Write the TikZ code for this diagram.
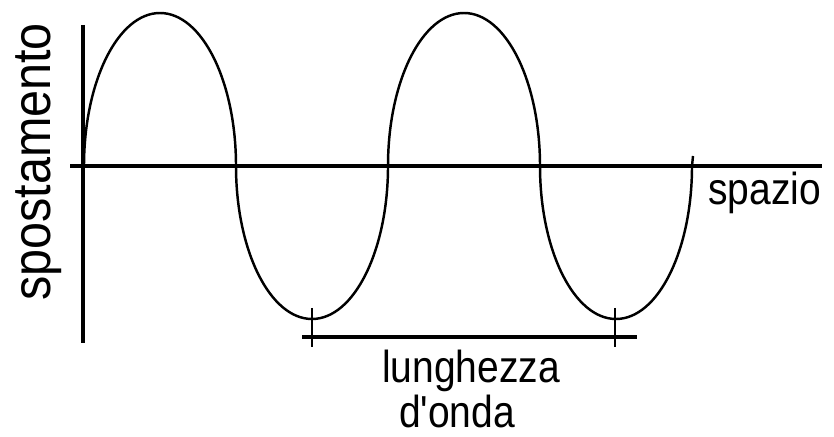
\documentclass[tikz,border=0pt]{standalone}
\usepackage{fontspec}
\setmainfont{Liberation Sans}
\usetikzlibrary{calc}

\begin{document}
\begin{tikzpicture}[x=.02cm,y=.02cm,line join=round,
  axis/.style={line width=1.9pt},
  wave/.style={line width=1.4pt},
  lbl/.style={font=\fontsize{25.5}{30}\selectfont,inner sep=0pt}]
  \useasboundingbox (0,0) rectangle (834,436);
  % axes
  \coordinate (Ytop) at (83,411);\coordinate (Ybot) at (83,93);
  \coordinate (Xl) at (70,270);\coordinate (Xr) at (822,270);
  \draw[axis] (Ytop)--(Ybot) (Xl)--(Xr);
  % wave: four half ellipses
  \coordinate (W0) at (84,270);\coordinate (Wend) at (693,280);
  \draw[wave] (W0) arc[start angle=180,end angle=0,x radius=76,y radius=153]
    arc[start angle=180,end angle=360,x radius=76,y radius=153]
    arc[start angle=180,end angle=0,x radius=76,y radius=153]
    arc[start angle=180,end angle=360,x radius=76,y radius=153] -- (Wend);
  % wavelength
  \coordinate (Ma) at (302,99);\coordinate (Mb) at (637,99);
  \coordinate (La) at (312,99);\coordinate (Lb) at (615,99);
  \draw[axis] (Ma)--(Mb);
  \draw[wave] ($(La)+(0,29)$)--($(La)+(0,-10)$) ($(Lb)+(0,29)$)--($(Lb)+(0,-10)$);
  % labels
  \node[lbl,anchor=base,xscale=.87] (lung) at (471,54) {lunghezza};
  \node[lbl,anchor=base,xscale=.87] (onda) at (457,9) {d\textquotesingle onda};
  \node[lbl,anchor=base west,xscale=.87] (spazio) at (708,231) {spazio};
  \node[lbl,font=\fontsize{30.7}{36}\selectfont,anchor=base,rotate=90,xscale=.9] (spost) at (50,274) {spostamento};
\end{tikzpicture}
\end{document}
